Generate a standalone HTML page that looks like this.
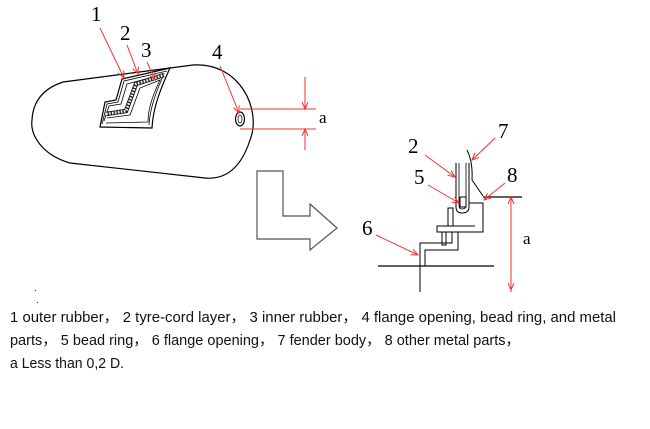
<!DOCTYPE html>
<html><head><meta charset="utf-8"><style>
html,body{margin:0;padding:0;background:#fff;width:650px;height:429px;overflow:hidden}
svg{display:block}
.lb{font-family:"Liberation Serif",serif;font-size:21px;fill:#000}
.tx{font-family:"Liberation Sans","Noto Sans CJK SC",sans-serif;font-size:14.5px;fill:#111}
</style></head><body>
<svg width="650" height="429" viewBox="0 0 650 429">
<defs>
<marker id="ar" markerWidth="8" markerHeight="8" refX="7" refY="4" orient="auto" markerUnits="userSpaceOnUse">
<path d="M0,1 L7,4 L0,7" fill="none" stroke="#e33" stroke-width="1"/></marker>
</defs>
<g fill="none" stroke="#000" stroke-width="1.2">
<path d="M63,82 L193,65 C240,62 262,110 250,140 C242,165 228,180 205,178 L70,163 C42,155 30,135 32,120 C33,100 45,88 63,82 Z"/>
<!-- cutaway -->
<path d="M100,127 L105,102 L116,100 L122,79 L170,68 C160,90 153,108 152,128 Z" fill="#fff"/>
<polyline points="102,124 107,104 118,102 124,81 167,71" stroke-width="0.8"/>
<path d="M104,121 L109,106 L121,104 L127,84 L164,74 C156,92 150,108 149,125" stroke-width="0.8"/>
<polyline points="106,114 126,111 136,84 164,75" stroke="#222" stroke-width="4.5"/>
<polyline points="106,114 126,111 136,84 164,75" stroke="#fff" stroke-width="2.5" stroke-dasharray="1.6,1.4"/>
<path d="M107,118 L130,115 L140,88 L160,80 C153,95 148,108 148,122 L106,123" stroke-width="0.8"/>
<ellipse cx="240" cy="119" rx="4.5" ry="7"/>
<ellipse cx="240" cy="119" rx="2" ry="4" stroke-width="0.7"/>
<!-- big arrow -->
<path d="M257,171 L283,171 L283,216 L310,216 L310,204 L337,228 L310,250 L310,239 L257,239 Z" stroke="#555"/>
<!-- right detail -->
<line x1="483" y1="197" x2="522" y2="197"/>
<line x1="378" y1="266" x2="494" y2="266"/>
<path d="M456,163 L456,207 Q456,213 462,213 Q469,213 469,207 L469,163" stroke-width="1"/>
<path d="M459,163 L459,205 Q459,209 462,209 Q466,209 466,205 L466,163" stroke-width="0.8"/>
<rect x="460" y="197" width="6" height="10" stroke-width="1"/>
<path d="M467,150 Q473,162 472,180 L483,196" stroke-width="1"/>
<polyline points="469,203 483,203 483,232 437,232 437,226 475,226" stroke-width="1"/>
<polyline points="448,226 448,208 453,208 453,226" stroke-width="1"/>
<polyline points="442,232 442,245 446,245 446,232" stroke-width="1"/>
<polyline points="420,292 420,243 452,243 452,232" stroke-width="1"/>
<polyline points="425,266 425,250 458,250 458,232" stroke-width="1"/>
</g>
<g stroke="#e33" stroke-width="1" fill="none">
<line x1="240" y1="109" x2="316" y2="109"/>
<line x1="240" y1="129" x2="316" y2="129"/>
<line x1="305" y1="77" x2="305" y2="109" marker-end="url(#ar)"/>
<line x1="305" y1="150" x2="305" y2="129" marker-end="url(#ar)"/>
<line x1="511" y1="205" x2="511" y2="197" marker-end="url(#ar)"/>
<line x1="511" y1="197" x2="511" y2="292"/>
<line x1="511" y1="280" x2="511" y2="290" marker-end="url(#ar)"/>
<line x1="100" y1="28" x2="124" y2="78" marker-end="url(#ar)"/>
<line x1="127" y1="45" x2="138" y2="74" marker-end="url(#ar)"/>
<line x1="147" y1="62" x2="155" y2="80" marker-end="url(#ar)"/>
<line x1="220" y1="66" x2="239" y2="113" marker-end="url(#ar)"/>
<line x1="495" y1="138" x2="472" y2="160" marker-end="url(#ar)"/>
<line x1="425" y1="155" x2="455" y2="177" marker-end="url(#ar)"/>
<line x1="428" y1="185" x2="459" y2="203" marker-end="url(#ar)"/>
<line x1="505" y1="183" x2="484" y2="200" marker-end="url(#ar)"/>
<line x1="376" y1="235" x2="418" y2="255" marker-end="url(#ar)"/>
</g>
<text class="lb" x="91" y="21">1</text>
<text class="lb" x="120" y="40">2</text>
<text class="lb" x="141" y="57">3</text>
<text class="lb" x="212" y="59">4</text>
<text class="lb" x="319" y="123" style="font-size:17px">a</text>
<text class="lb" x="498" y="138">7</text>
<text class="lb" x="408" y="153">2</text>
<text class="lb" x="414" y="184">5</text>
<text class="lb" x="507" y="182">8</text>
<text class="lb" x="362" y="235">6</text>
<text class="lb" x="523" y="244" style="font-size:17px">a</text>
<text class="tx" x="34" y="291" style="font-size:10px">.</text>
<text class="tx" x="36" y="303" style="font-size:10px">.</text>
<text class="tx" x="10" y="322" textLength="606" lengthAdjust="spacingAndGlyphs">1 outer rubber，  2 tyre-cord layer，  3 inner rubber，  4 flange opening, bead ring, and metal</text>
<text class="tx" x="10" y="345" textLength="510" lengthAdjust="spacingAndGlyphs">parts，  5 bead ring，  6 flange opening，  7 fender body，  8 other metal parts，</text>
<text class="tx" x="10" y="368" textLength="114" lengthAdjust="spacingAndGlyphs">a Less than 0,2 D.</text>
</svg>
</body></html>
